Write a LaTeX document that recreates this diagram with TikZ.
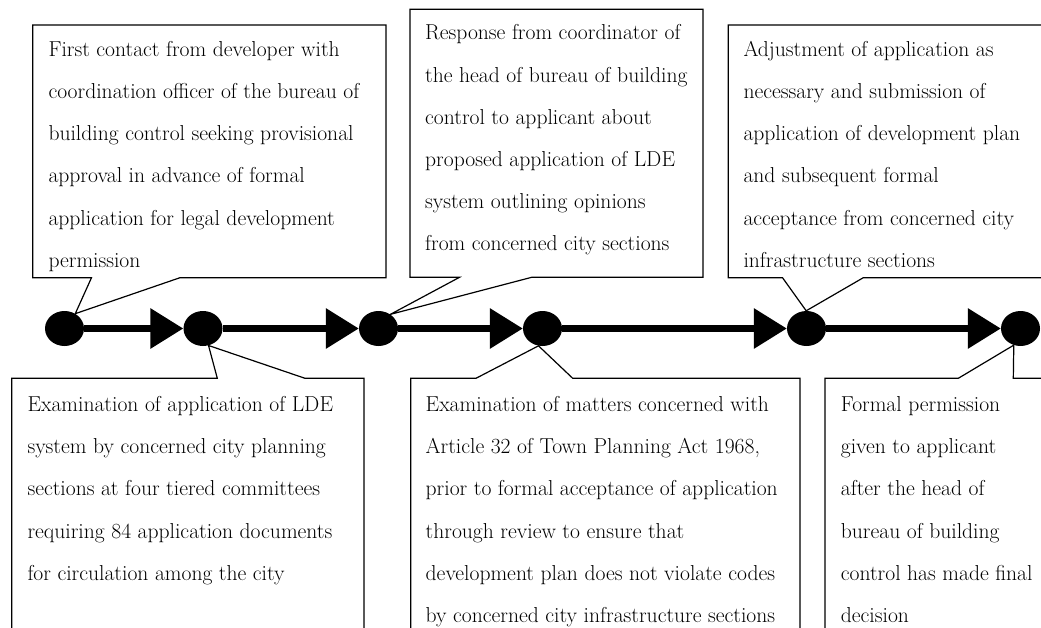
\documentclass[tikz,border=0pt]{standalone}
\usetikzlibrary{shapes.geometric,arrows.meta}
\begin{document}
\begin{tikzpicture}[x=1pt,y=-1pt,
  stage/.style={ellipse,fill=black,inner sep=0pt,minimum width=39pt,minimum height=35pt},
  flow/.style={line width=6.5pt,-{Triangle[length=33pt,width=39pt]}},
  callout/.style={draw=black,line width=1.2pt,fill=white,line join=miter},
  note/.style={anchor=base west,inner sep=0pt,align=left,font=\fontsize{21.6}{42.1}\selectfont}
]
\useasboundingbox (0,0) rectangle (1041,628);
\clip (0,0) rectangle (1041,628);

% stages on the time line
\node[stage] (s1) at (64.5,328.5) {};
\node[stage] (s2) at (203,328.5) {};
\node[stage] (s3) at (378.5,328.5) {};
\node[stage] (s4) at (542.5,328.5) {};
\node[stage] (s5) at (806.5,328.5) {};
\node[stage] (s6) at (1020.5,328.5) {};

% speech-balloon boxes above the line
\draw[callout] (32.7,25) -- (386,25) -- (386,277.7) -- (180,277.7) -- (s1.54)
  -- (91.5,277.7) -- (32.7,277.7) -- cycle;
\draw[callout] (410,9.3) -- (703,9.3) -- (703,277.3) -- (531.7,277.3) -- (s3.50)
  -- (459.5,277.3) -- (410,277.3) -- cycle;
\draw[callout] (728.3,25) -- (1060,25) -- (1060,277.7) -- (863.3,277.7) -- (s5.91)
  -- (782.5,277.7) -- (728.3,277.7) -- cycle;

% speech-balloon boxes below the line
\draw[callout] (11.7,640) -- (11.7,378.3) -- (217.3,378.3) -- (s2.-72)
  -- (305,378.3) -- (364,378.3) -- (364,640);
\draw[callout] (410.7,640) -- (410.7,378.3) -- (476,378.3) -- (s4.-103)
  -- (572.7,378.3) -- (800,378.3) -- (800,640);
\draw[callout] (825,640) -- (825,378.3) -- (958.3,378.3) -- (s6.-112)
  -- (1013.3,378.3) -- (1060,378.3);

% flow arrows
\draw[flow] (s1) -- (s2);
\draw[flow] (s2) -- (s3);
\draw[flow] (s3) -- (s4);
\draw[flow] (s4) -- (s5);
\draw[flow] (s5) -- (s6);

% texts (anchored at the baseline of their last line)
\node[note] (t1) at (48.3,267.2) {First contact from developer with\\coordination officer of the bureau of\\building control seeking provisional\\approval in advance of formal\\application for legal development\\permission};
\node[note] (t2) at (425,250.5) {Response from coordinator of\\the head of bureau of building\\control to applicant about\\proposed application of LDE\\system outlining opinions\\from concerned city sections};
\node[note] (t3) at (743.3,267.2) {Adjustment of application as\\necessary and submission of\\application of development plan\\and subsequent formal\\acceptance from concerned city\\infrastructure sections};
\node[note] (b1) at (27.3,580.1) {Examination of application of LDE\\system by concerned city planning\\sections at four tiered committees\\requiring 84 application documents\\for circulation among the city};
\node[note] (b2) at (425.5,622.2) {Examination of matters concerned with\\Article 32 of Town Planning Act 1968,\\prior to formal acceptance of application\\through review to ensure that\\development plan does not violate codes\\by concerned city infrastructure sections};
\node[note] (b3) at (840.7,622.2) {Formal permission\\given to applicant\\after the head of\\bureau of building\\control has made final\\decision};
\end{tikzpicture}
\end{document}
